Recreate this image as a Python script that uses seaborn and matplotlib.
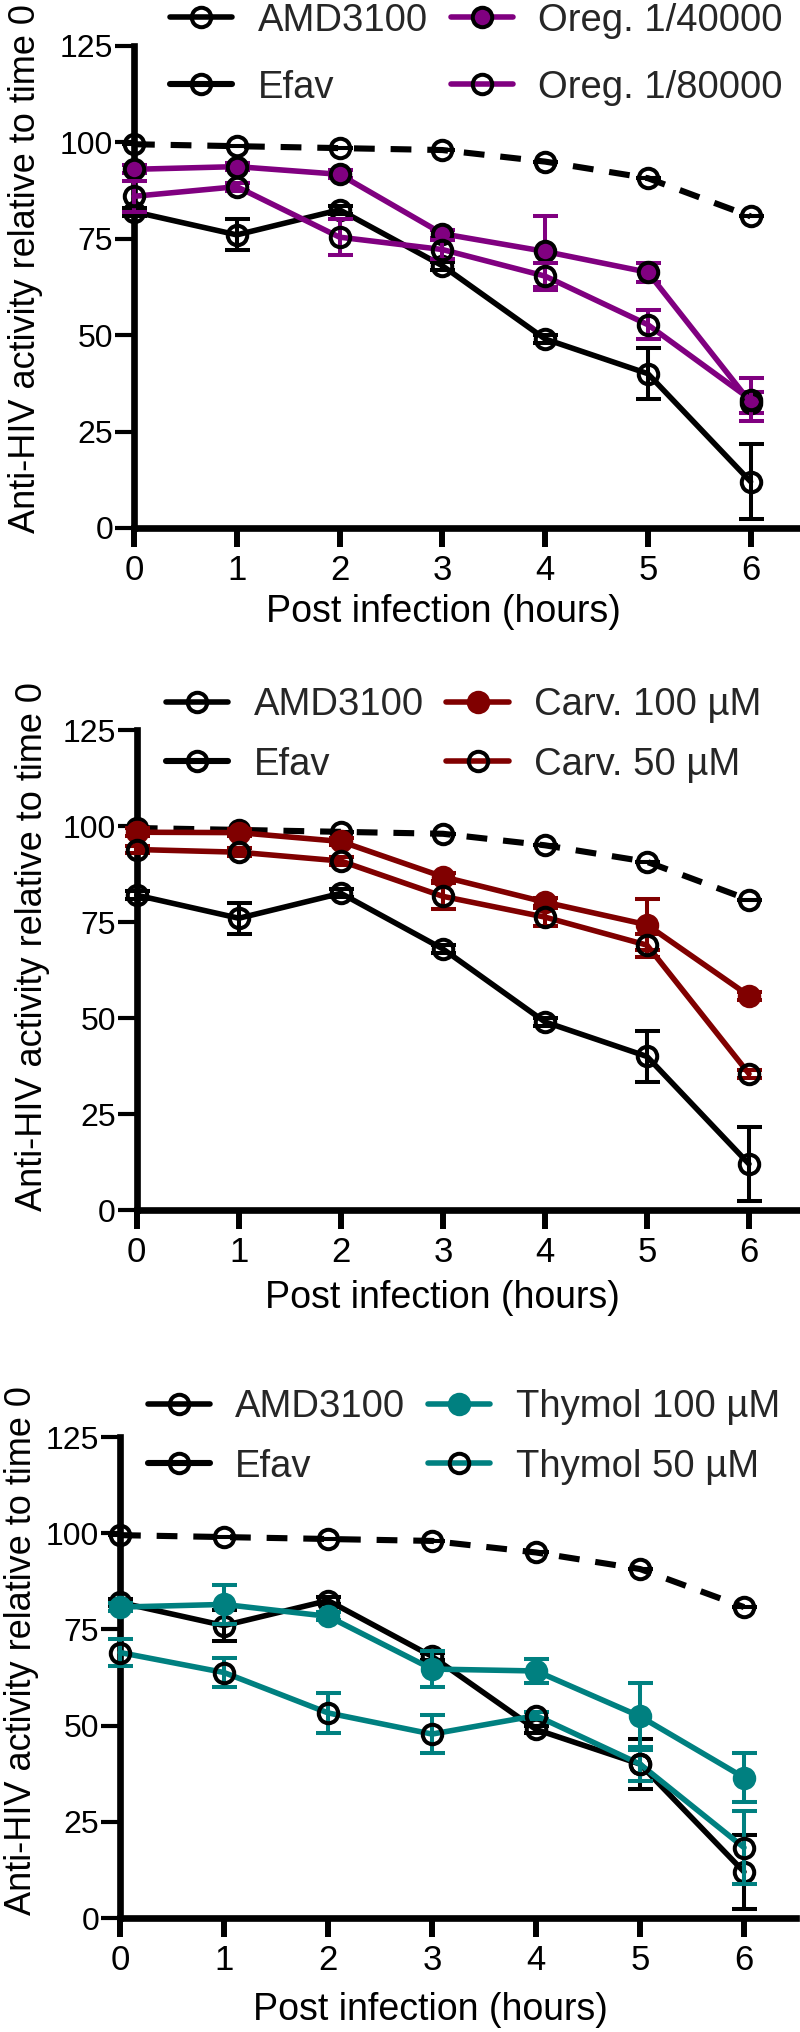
import numpy as np
import pandas as pd
import seaborn as sns
import matplotlib
matplotlib.use('Agg')
import matplotlib.pyplot as plt
from matplotlib.lines import Line2D

# time points (hours post infection)
time = [0, 1, 2, 3, 4, 5, 6]

# controls (same in every panel)
amd_mean = [82, 76, 82.5, 68, 49, 40, 12]
amd_err = [1, 4, 1, 1, 1, 6.6, 9.7]
efav_mean = [99.5, 99, 98.5, 98, 95, 90.7, 80.8]
efav_err = [0, 0, 0, 0, 0, 0, 0]

# oregano
oreg40_mean = [93, 93.7, 91.7, 76.3, 71.7, 66.3, 32.5]
oreg40_err = [1, 1, 1, 1, 9.3, 2.5, 2.8]
oreg80_mean = [86, 88.5, 75.4, 72.2, 65.3, 52.7, 33.3]
oreg80_err = [4, 1, 4.7, 2.5, 3.5, 3.8, 5.7]

# carvacrol
carv100_mean = [98.4, 98.3, 96, 86.8, 80.2, 74.3, 55.8]
carv100_err = [1, 1, 1, 1, 1, 6.7, 1]
carv50_mean = [93.9, 93.2, 90.9, 81.7, 76.3, 69, 35.5]
carv50_err = [1, 1, 1, 3.4, 2.4, 3, 1]

# thymol
thy100_mean = [80.8, 81.5, 78.4, 64.7, 64.2, 52.4, 36.5]
thy100_err = [1, 5, 1, 4.7, 3, 8.8, 6.3]
thy50_mean = [69, 63.8, 53.3, 47.8, 52.6, 40, 18.3]
thy50_err = [3.5, 3.7, 5.2, 5, 1, 4.4, 9.5]

sns.set_theme(style='ticks')
plt.rcParams['font.family'] = ['Liberation Sans', 'DejaVu Sans']

fig = plt.figure(figsize=(8, 20.32), dpi=100)

# panel settings: axes rect, treatment labels/colours/data, label coords, legend anchor
panels = [
    dict(rect=[0.1675, 0.7402, 0.835, 0.2372], color='#800080', edge_filled='black',
         labels=['Oreg. 1/40000', 'Oreg. 1/80000'],
         data=[(oreg40_mean, oreg40_err), (oreg80_mean, oreg80_err)],
         ylab=(-0.163, 0.539), xlab=(0.463, -0.174), leg=(0.054, 1.09), lsp=0.82),
    dict(rect=[0.171, 0.4045, 0.829, 0.2362], color='#800000', edge_filled='#800000',
         labels=['Carv. 100 µM', 'Carv. 50 µM'],
         data=[(carv100_mean, carv100_err), (carv50_mean, carv50_err)],
         ylab=(-0.158, 0.548), xlab=(0.461, -0.183), leg=(0.044, 1.09), lsp=0.62),
    dict(rect=[0.15, 0.0561, 0.845, 0.2367], color='#008080', edge_filled='#008080',
         labels=['Thymol 100 µM', 'Thymol 50 µM'],
         data=[(thy100_mean, thy100_err), (thy50_mean, thy50_err)],
         ylab=(-0.145, 0.557), xlab=(0.459, -0.191), leg=(0.041, 1.10), lsp=0.62),
]

ms = 14
mew = 2.9

for p in panels:
    ax = fig.add_axes(p['rect'])
    col = p['color']

    series = [
        ('AMD3100', amd_mean, amd_err, 'black', 'none', 'black', 4.0, '-'),
        ('Efav', efav_mean, efav_err, 'black', 'none', 'black', 4.4, (0, (3.4, 2.6))),
        (p['labels'][0], p['data'][0][0], p['data'][0][1], col, col, p['edge_filled'], 4.0, '-'),
        (p['labels'][1], p['data'][1][0], p['data'][1][1], col, 'none', 'black', 4.0, '-'),
    ]

    handles = []
    for i, (lab, m, e, c, fc, ec, lw, ls) in enumerate(series):
        z = 3 + i
        ax.errorbar(time, m, yerr=e, fmt='none', ecolor=c, elinewidth=2.9,
                    capsize=9, capthick=2.9, clip_on=False, zorder=z)
        sns.lineplot(x=time, y=m, ax=ax, color=c, linewidth=lw, marker='o',
                     markersize=ms, markerfacecolor=fc, markeredgecolor=ec,
                     markeredgewidth=mew, errorbar=None, clip_on=False, zorder=z + 0.5)
        ax.lines[-1].set_linestyle(ls)
        handles.append(Line2D([], [], color=c, linewidth=lw, marker='o', markersize=ms,
                              markerfacecolor=fc, markeredgecolor=ec, markeredgewidth=mew))

    ax.set_xlim(0, 6.5)
    ax.set_ylim(0, 125)
    ax.set_xticks(time)
    ax.set_yticks([0, 25, 50, 75, 100, 125])
    for s in ['top', 'right']:
        ax.spines[s].set_visible(False)
    for s in ['left', 'bottom']:
        ax.spines[s].set_linewidth(4.8)
        ax.spines[s].set_color('black')
    ax.spines['left'].set_bounds(0, 125)
    ax.tick_params(axis='x', length=14, width=4.3, pad=5, labelsize=25, colors='black')
    ax.tick_params(axis='y', length=14, width=3, pad=1, labelsize=23, colors='black')
    ax.set_facecolor('none')

    ax.set_xlabel('Post infection (hours)', fontsize=27, color='black')
    ax.set_ylabel('Anti-HIV activity relative to time 0', fontsize=26, color='black')
    ax.xaxis.label.set_va('center')
    ax.yaxis.label.set_va('center')
    ax.xaxis.set_label_coords(*p['xlab'])
    ax.yaxis.set_label_coords(*p['ylab'])

    ax.legend(handles, [s[0] for s in series], ncol=2, loc='upper left',
              bbox_to_anchor=p['leg'], frameon=False, fontsize=27.5,
              handlelength=1.63, handletextpad=0.66, columnspacing=0.6,
              labelspacing=p['lsp'], borderpad=0, borderaxespad=0)

fig.savefig('out.png', dpi=100)
